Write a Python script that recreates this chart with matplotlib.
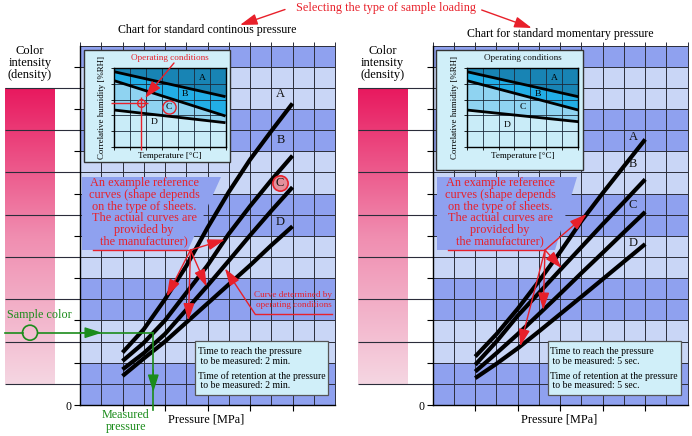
import numpy as np
import matplotlib
matplotlib.use("Agg")
import matplotlib.pyplot as plt
from matplotlib.patches import Rectangle, Polygon, Circle
from matplotlib.colors import LinearSegmentedColormap

plt.rcParams['font.family'] = ['Liberation Serif', 'DejaVu Serif']

W, H = 692, 436

# --- reference curves (x: pressure grid units, y: colour intensity grid units)
pressure = [2, 3, 4, 5, 6, 7, 8, 9, 10]
cont_A = [2.48, 3.58, 5.00, 6.57, 8.38, 10.07, 11.60, 12.95, 14.26]
cont_B = [2.08, 2.94, 4.00, 5.30, 6.60, 8.09, 9.40, 10.63, 11.79]
cont_C = [1.68, 2.45, 3.36, 4.50, 5.64, 6.82, 8.02, 9.18, 10.30]
cont_D = [1.37, 2.20, 3.00, 3.90, 4.80, 5.70, 6.60, 7.55, 8.45]
mom_A = [2.29, 3.35, 4.55, 5.86, 7.24, 8.70, 10.02, 11.29, 12.56]
mom_B = [1.90, 3.00, 4.22, 5.30, 6.39, 7.47, 8.55, 9.60, 10.67]
mom_C = [1.58, 2.45, 3.35, 4.30, 5.26, 6.24, 7.20, 8.17, 9.13]
mom_D = [1.27, 1.95, 2.68, 3.48, 4.30, 5.12, 5.95, 6.78, 7.61]
curve_labels = ['A', 'B', 'C', 'D']

# --- operating-condition insets (normalised temperature vs humidity)
inset_temp = [0.0, 1.0]
cont_AB = [0.957, 0.638]
cont_BC = [0.843, 0.391]
cont_CD = [0.468, 0.306]
mom_AB = [0.957, 0.638]
mom_BC = [0.843, 0.468]
mom_CD = [0.468, 0.319]
op_temp, op_rh = 0.246, 0.56

dark_bands = [(0, 2), (4, 6), (8, 10), (12, 14), (16, 17)]

# colours
DARK = '#8fa1ef'
LIGHT = '#c9d6f6'
GRID = '#2b2d3a'
RED = '#e8202a'
GREEN = '#1b8c1b'
CYAN_BOX = '#d0eff9'
INS = ['#1884b4', '#22aee6', '#8fd3f1', '#c9ecf8']


def px(x0, y0, x1, y1):
    return [x0 / W, 1 - y1 / H, (x1 - x0) / W, (y1 - y0) / H]


fig = plt.figure(figsize=(W / 100, H / 100), dpi=100)

bg = fig.add_axes([0, 0, 1, 1], zorder=2)
fg = fig.add_axes([0, 0, 1, 1], zorder=4)
for o in (bg, fg):
    o.set_xlim(0, W)
    o.set_ylim(H, 0)
    o.axis('off')
    o.patch.set_visible(False)

pink = LinearSegmentedColormap.from_list('pink', ['#f5d6e2', '#f08db0', '#e8185e'])
arrow_kw = dict(arrowstyle='-|>,head_length=0.75,head_width=0.24', color=RED,
                lw=1.0, mutation_scale=14, shrinkA=0, shrinkB=0)


def main_panel(x0, curves, lab_xy, title, title_xy, time_txt):
    ax = fig.add_axes(px(x0, 45.5, x0 + 255, 405), zorder=1)
    ax.set_xlim(0, 12)
    ax.set_ylim(0, 17)
    ax.set_facecolor(LIGHT)
    for lo, hi in dark_bands:
        ax.axhspan(lo, hi, color=DARK, lw=0, zorder=0)
    ax.vlines(np.arange(13), 0, 17.15, color=GRID, lw=0.7, zorder=1, clip_on=False)
    ax.hlines(np.arange(18), 0, 12, color=GRID, lw=0.7, zorder=1)
    ax.hlines(np.arange(1, 16, 2), -3.53, 0, color=GRID, lw=0.8, clip_on=False, zorder=1)
    for yv, name, (lx, ly) in zip(curves, curve_labels, lab_xy):
        ax.plot(pressure, yv, color='black', lw=3, solid_capstyle='butt', zorder=3)
        ax.text(lx, ly, name, fontsize=9, ha='center', va='center', color='#111', zorder=4)
    ax.set_xticks([2, 4, 6, 8, 10])
    ax.set_xticklabels([])
    ax.set_yticks(np.arange(0, 17, 2))
    ax.set_yticklabels(['0'] + [''] * 8, fontsize=8.5)
    ax.tick_params(direction='out', length=4, width=0.8, pad=2)
    for s in ('top', 'right'):
        ax.spines[s].set_visible(False)
    for s in ('left', 'bottom'):
        ax.spines[s].set_linewidth(1.0)

    # colour intensity bar
    cb = fig.add_axes(px(x0 - 75, 87.75, x0 - 25, 383.85), zorder=0.5)
    cb.imshow(np.linspace(1, 0, 256).reshape(-1, 1), aspect='auto', cmap=pink)
    cb.axis('off')

    fg.text(x0 - 50, 63, 'Color\nintensity\n(density)', fontsize=9, ha='center',
            va='center', linespacing=0.95)
    fg.text(title_xy[0], title_xy[1], title, fontsize=8.6, ha='center', va='center')
    fg.text(x0 + 126, 419, 'Pressure [MPa]', fontsize=8.8, ha='center', va='center')

    # time box
    bg.add_patch(Rectangle((x0 + 115, 341), 133, 54, facecolor=CYAN_BOX,
                           edgecolor='#555', lw=0.9))
    for ty, t in zip([351.7, 361.7, 376, 385.7], time_txt):
        fg.text(x0 + 117.5, ty, t, fontsize=7.0, ha='left', va='center')
    return ax


def inset_panel(x0, box_h, bounds, lab_xy, title_color):
    bg.add_patch(Rectangle((x0 + 3.5, 50), 146.5, box_h, facecolor=CYAN_BOX,
                           edgecolor='#333', lw=1.0))
    iax = fig.add_axes(px(x0 + 34, 68.3, x0 + 145.5, 146.7), zorder=3)
    t = np.array(inset_temp)
    ab, bc, cd = [np.array(b) for b in bounds]
    iax.fill_between(t, ab, 1, color=INS[0], lw=0)
    iax.fill_between(t, bc, ab, color=INS[1], lw=0)
    iax.fill_between(t, cd, bc, color=INS[2], lw=0)
    iax.fill_between(t, 0, cd, color=INS[3], lw=0)
    iax.vlines(np.arange(1, 7) / 7, 0, 1, color='#1c2a3a', lw=0.6)
    iax.hlines(np.arange(1, 5) / 5, 0, 1, color='#1c2a3a', lw=0.6)
    for b in (ab, bc, cd):
        iax.plot(t, b, color='black', lw=2, solid_capstyle='butt')
    for name, (lx, ly) in zip(curve_labels, lab_xy):
        iax.text(lx, ly, name, fontsize=6.8, ha='center', va='center')
    iax.set_xlim(0, 1)
    iax.set_ylim(0, 1)
    iax.set_xticks(np.arange(8) / 7)
    iax.set_yticks(np.arange(6) / 5)
    iax.tick_params(direction='out', length=2.5, width=0.6,
                    labelbottom=False, labelleft=False)
    for s in iax.spines.values():
        s.set_linewidth(1.0)
    fg.text(x0 + 90, 57.7, 'Operating conditions', fontsize=6.6, ha='center',
            va='center', color=title_color)
    fg.text(x0 + 22, 107.5, 'Correlative humidity [%RH]', fontsize=6.4,
            ha='center', va='center', rotation=90)
    fg.text(x0 + 90, 156, 'Temperature [°C]', fontsize=6.5, ha='center', va='center')
    return iax


# ---------------- left: continuous pressure ----------------
axL = main_panel(80, [cont_A, cont_B, cont_C, cont_D],
                 [(9.44, 14.7), (9.44, 12.53), (9.41, 10.48), (9.44, 8.67)],
                 'Chart for standard continous pressure', (207, 30),
                 ['Time to reach the pressure', ' to be measured: 2 min.',
                  'Time of retention at the pressure', ' to be measured: 2 min.'])
axL.plot([9.41], [10.48], 'o', ms=11, mfc='#e3909c', mec=RED, mew=1.2, zorder=3.5)

insL = inset_panel(80, 111.7, [cont_AB, cont_BC, cont_CD],
                   [(0.79, 0.88), (0.64, 0.67), (0.49, 0.51), (0.36, 0.31)], RED)
insL.plot([0.49], [0.51], 'o', ms=9.5, mfc='none', mec=RED, mew=1.0)
insL.hlines(op_rh, -0.03, 0.306, color=RED, lw=1.0, clip_on=False, zorder=5)
insL.vlines(op_temp, -0.04, 0.64, color=RED, lw=1.0, clip_on=False, zorder=5)
insL.plot([op_temp], [op_rh], 'o', ms=5.5, mfc='none', mec=RED, mew=1.0, zorder=5)
fg.annotate('', xy=(145, 98), xytext=(174, 63), arrowprops=arrow_kw)

# callout
bg.add_patch(Polygon([(82, 177), (221, 177), (188, 250), (82, 250)], closed=True,
                     facecolor=DARK, edgecolor='none'))
fg.text(144, 212.5, 'An example reference\ncurves (shape depends\non the type of sheets.\n'
        'The actual curves are\nprovided by\nthe manufacturer)', fontsize=8.8,
        ha='center', va='center', color=RED, linespacing=0.96)
fg.plot([92.7, 190.5], [250, 250], color=RED, lw=1.0)
for xv, yv in zip([4.08, 6.82, 5.96, 5.1], [cont_A, cont_B, cont_C, cont_D]):
    fg.annotate('', xy=(xv, np.interp(xv, pressure, yv)), xycoords=axL.transData,
                xytext=(190.5, 250), textcoords='data', arrowprops=arrow_kw)

# curve determined by operating conditions
fg.plot([255, 331.7], [314, 314], color=RED, lw=1.0)
fg.annotate('', xy=(6.82, np.interp(6.82, pressure, cont_C) - 0.15), xycoords=axL.transData,
            xytext=(255, 314), textcoords='data', arrowprops=arrow_kw)
fg.text(293.5, 300, 'Curve determined by\noperating conditions', fontsize=6.6,
        ha='center', va='center', color=RED, linespacing=1.45)

# sample colour -> measured pressure
fg.plot([5, 22.5], [332.7, 332.7], color=GREEN, lw=1.2)
fg.plot([37.5, 153.3], [332.7, 332.7], color=GREEN, lw=1.2)
fg.add_patch(Circle((30, 332.7), 7.5, facecolor='none', edgecolor=GREEN, lw=1.2))
fg.plot([153.3, 153.3], [332.7, 410], color=GREEN, lw=1.2)
green_kw = dict(arrow_kw, color=GREEN)
fg.annotate('', xy=(102, 332.7), xytext=(80, 332.7), arrowprops=green_kw)
fg.annotate('', xy=(153.3, 392), xytext=(153.3, 370), arrowprops=green_kw)
fg.text(7, 315, 'Sample color', fontsize=8.7, ha='left', va='center', color=GREEN)
fg.text(126, 421, 'Measured\npressure', fontsize=8.7, ha='center', va='center',
        color=GREEN, linespacing=1.0)

# ---------------- right: momentary pressure ----------------
axR = main_panel(432.7, [mom_A, mom_B, mom_C, mom_D],
                 [(9.43, 12.69), (9.43, 11.39), (9.43, 9.46), (9.43, 7.66)],
                 'Chart for standard momentary pressure', (560, 34.3),
                 ['Time to reach the pressure', ' to be measured: 5 sec.',
                  'Time of retention at the pressure', ' to be measured: 5 sec.'])
insR = inset_panel(432.7, 120, [mom_AB, mom_BC, mom_CD],
                   [(0.79, 0.87), (0.64, 0.67), (0.5, 0.51), (0.36, 0.28)], '#111')

bg.add_patch(Polygon([(437, 177), (577, 177), (555, 250), (437, 250)], closed=True,
                     facecolor=DARK, edgecolor='none'))
fg.text(500, 212.5, 'An example reference\ncurves (shape depends\non the type of sheets.\n'
        'The actual curves are\nprovided by\nthe manufacturer)', fontsize=8.8,
        ha='center', va='center', color=RED, linespacing=0.96)
fg.plot([448.3, 545], [250, 250], color=RED, lw=1.0)
for xv, yv in zip([7.25, 6.07, 5.2, 4.11], [mom_A, mom_B, mom_C, mom_D]):
    fg.annotate('', xy=(xv, np.interp(xv, pressure, yv)), xycoords=axR.transData,
                xytext=(545, 250), textcoords='data', arrowprops=arrow_kw)

# ---------------- header ----------------
fg.text(386, 8, 'Selecting the type of sample loading', fontsize=8.8, ha='center',
        va='center', color=RED)
fg.annotate('', xy=(240, 25), xytext=(285, 9.5), arrowprops=arrow_kw)
fg.annotate('', xy=(531.7, 28), xytext=(481.7, 10), arrowprops=arrow_kw)

fig.savefig('out.png', dpi=100)
